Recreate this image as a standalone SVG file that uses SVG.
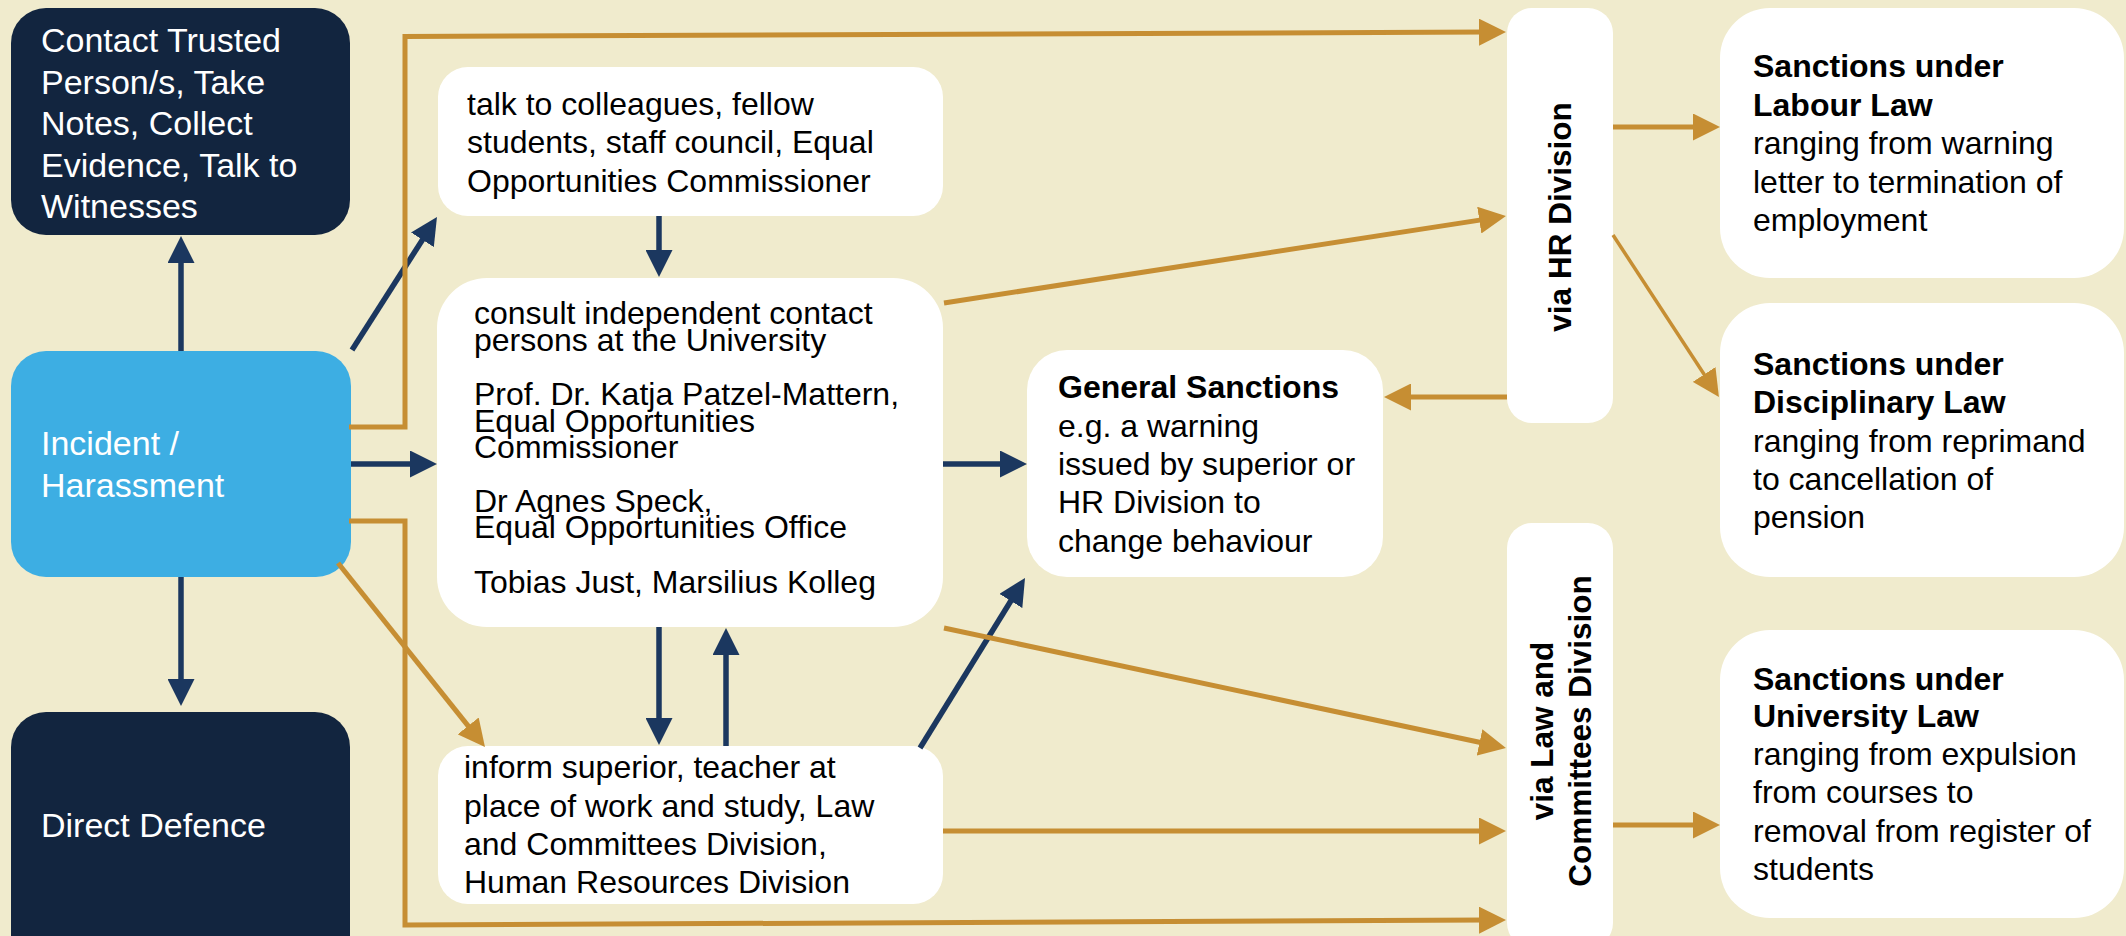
<svg xmlns="http://www.w3.org/2000/svg" width="2126" height="936" viewBox="0 0 2126 936">
<defs>
<style>
.bg{fill:#f0ebcd}
.dark{fill:#12253f}
.inc{fill:#3daee3}
.wbox{fill:#ffffff}
.wt{font-family:"Liberation Sans",Arial,sans-serif;font-size:34px;fill:#ffffff}
.bt{font-family:"Liberation Sans",Arial,sans-serif;font-size:32px;fill:#000000}
.b{font-weight:bold}
.vt{font-family:"Liberation Sans",Arial,sans-serif;font-size:31.5px;font-weight:bold;fill:#000000;text-anchor:middle}
.nv{fill:none;stroke:#1b375f;stroke-width:5.5;marker-end:url(#an)}
.gd{fill:none;stroke:#c68e33;stroke-width:5;marker-end:url(#ag)}
.gdt{fill:none;stroke:#c68e33;stroke-width:3.5;marker-end:url(#ag)}
</style>
<marker id="an" viewBox="0 0 27 27" markerUnits="userSpaceOnUse" markerWidth="27" markerHeight="27" refX="7" refY="13.5" orient="auto">
<path d="M0,0 L27,13.5 L0,27 z" fill="#1b375f"/>
</marker>
<marker id="ag" viewBox="0 0 27 27" markerUnits="userSpaceOnUse" markerWidth="27" markerHeight="27" refX="7" refY="13.5" orient="auto">
<path d="M0,0 L27,13.5 L0,27 z" fill="#c68e33"/>
</marker>
</defs>
<rect class="bg" x="0" y="0" width="2126" height="936"/>

<g id="contact">
<rect class="dark" x="11" y="8" width="339" height="227" rx="35"/>
<text class="wt" x="41" y="52">Contact Trusted</text>
<text class="wt" x="41" y="93.5">Person/s, Take</text>
<text class="wt" x="41" y="135">Notes, Collect</text>
<text class="wt" x="41" y="176.5">Evidence, Talk to</text>
<text class="wt" x="41" y="218">Witnesses</text>
</g>

<g id="incident">
<rect class="inc" x="11" y="351" width="340" height="226" rx="35"/>
<text class="wt" x="41" y="455">Incident /</text>
<text class="wt" x="41" y="497">Harassment</text>
</g>

<g id="direct">
<rect class="dark" x="11" y="712" width="339" height="260" rx="35"/>
<text class="wt" x="41" y="837">Direct Defence</text>
</g>

<g id="talk">
<rect class="wbox" x="438" y="67" width="505" height="149" rx="30"/>
<text class="bt" x="467" y="115">talk to colleagues, fellow</text>
<text class="bt" x="467" y="153">students, staff council, Equal</text>
<text class="bt" x="467" y="192">Opportunities Commissioner</text>
</g>

<g id="consult">
<rect class="wbox" x="437" y="278" width="506" height="349" rx="50"/>
<text class="bt" x="474" y="324">consult independent contact</text>
<text class="bt" x="474" y="351">persons at the University</text>
<text class="bt" x="474" y="405">Prof. Dr. Katja Patzel-Mattern,</text>
<text class="bt" x="474" y="432">Equal Opportunities</text>
<text class="bt" x="474" y="458">Commissioner</text>
<text class="bt" x="474" y="512">Dr Agnes Speck,</text>
<text class="bt" x="474" y="538">Equal Opportunities Office</text>
<text class="bt" x="474" y="593">Tobias Just, Marsilius Kolleg</text>
</g>

<g id="inform">
<rect class="wbox" x="438" y="746" width="505" height="158" rx="30"/>
<text class="bt" x="464" y="778">inform superior, teacher at</text>
<text class="bt" x="464" y="817">place of work and study, Law</text>
<text class="bt" x="464" y="855">and Committees Division,</text>
<text class="bt" x="464" y="893">Human Resources Division</text>
</g>

<g id="general">
<rect class="wbox" x="1027" y="350" width="356" height="227" rx="40"/>
<text class="bt b" x="1058" y="398">General Sanctions</text>
<text class="bt" x="1058" y="437">e.g. a warning</text>
<text class="bt" x="1058" y="475">issued by superior or</text>
<text class="bt" x="1058" y="513">HR Division to</text>
<text class="bt" x="1058" y="552">change behaviour</text>
</g>

<g id="viahr">
<rect class="wbox" x="1507" y="8" width="106" height="415" rx="25"/>
<text class="vt" transform="translate(1571,217) rotate(-90)" x="0" y="0">via HR Division</text>
</g>

<g id="vialaw">
<rect class="wbox" x="1507" y="523" width="106" height="425" rx="25"/>
<text class="vt" transform="translate(1553,731) rotate(-90)" x="0" y="0">via Law and</text>
<text class="vt" transform="translate(1591,731) rotate(-90)" x="0" y="0">Committees Division</text>
</g>

<g id="labour">
<rect class="wbox" x="1720" y="8" width="404" height="270" rx="50"/>
<text class="bt b" x="1753" y="77">Sanctions under</text>
<text class="bt b" x="1753" y="116">Labour Law</text>
<text class="bt" x="1753" y="154">ranging from warning</text>
<text class="bt" x="1753" y="193">letter to termination of</text>
<text class="bt" x="1753" y="231">employment</text>
</g>

<g id="disciplinary">
<rect class="wbox" x="1720" y="303" width="404" height="274" rx="50"/>
<text class="bt b" x="1753" y="375">Sanctions under</text>
<text class="bt b" x="1753" y="413">Disciplinary Law</text>
<text class="bt" x="1753" y="452">ranging from reprimand</text>
<text class="bt" x="1753" y="490">to cancellation of</text>
<text class="bt" x="1753" y="528">pension</text>
</g>

<g id="university">
<rect class="wbox" x="1720" y="630" width="404" height="288" rx="50"/>
<text class="bt b" x="1753" y="690">Sanctions under</text>
<text class="bt b" x="1753" y="727">University Law</text>
<text class="bt" x="1753" y="765">ranging from expulsion</text>
<text class="bt" x="1753" y="803">from courses to</text>
<text class="bt" x="1753" y="842">removal from register of</text>
<text class="bt" x="1753" y="880">students</text>
</g>

<g id="connectors">
<path class="nv" d="M181,351 L181,256"/>
<path class="nv" d="M181,577 L181,686"/>
<path class="nv" d="M352,350 L426.2,233.9"/>
<path class="nv" d="M351,464 L417,464"/>
<path class="nv" d="M659,216 L659,257"/>
<path class="nv" d="M659,627 L659,725"/>
<path class="nv" d="M726,746 L726,648"/>
<path class="nv" d="M920,748 L1014.5,595"/>
<path class="nv" d="M943,464 L1007,464"/>

<path class="gd" d="M349,427 L405,427 L405,36.5 L1486,32.1"/>
<path class="gd" d="M944,303 L1486.2,219.1"/>
<path class="gd" d="M1507,397 L1404,397"/>
<path class="gd" d="M1613,127 L1700,127"/>
<path class="gdt" d="M1613,235 L1708,380.3"/>
<path class="gd" d="M349,521 L405,521 L405,925 L1486,920.1"/>
<path class="gd" d="M338,563 L472.5,731.4"/>
<path class="gd" d="M944,628 L1486.4,743.8"/>
<path class="gd" d="M943,831 L1486,831"/>
<path class="gd" d="M1613,825 L1700,825"/>
</g>
</svg>
